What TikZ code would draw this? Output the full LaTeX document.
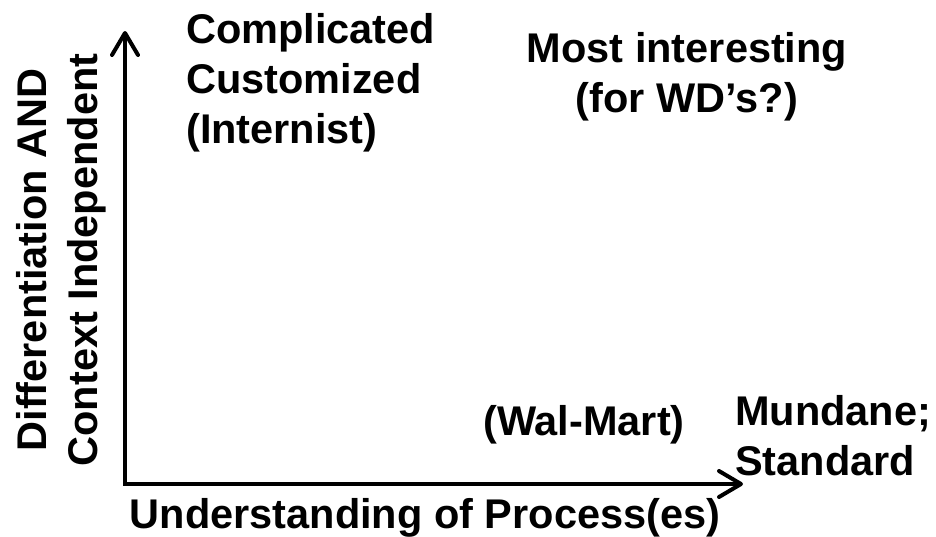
\documentclass[tikz,border=0pt]{standalone}
\usepackage{fontspec}
\setmainfont{Liberation Sans}
\usetikzlibrary{arrows.meta}
\begin{document}
\begin{tikzpicture}[x=1pt,y=1pt,
  lbl/.style={inner sep=0pt,font=\fontsize{41.5}{50}\selectfont\bfseries},
  axis/.style={line width=4pt,line join=miter,line cap=round,
    arrows={Straight Barb[length=22pt,width=26pt,line cap=round,line join=round]-Straight Barb[length=22pt,width=26pt,line cap=round,line join=round]}}]
\useasboundingbox (0,0) rectangle (936,-536);
\coordinate (ytip) at (125,-31);
\coordinate (origin) at (125,-484);
\coordinate (xtip) at (743,-484);
\draw[axis] (ytip) -- (origin) -- (xtip);
% top-left quadrant
\node[lbl,anchor=base west] (c1) at (186,-43) {Complicated};
\node[lbl,anchor=base west] (c2) at (186,-93) {Customized};
\node[lbl,anchor=base west] (c3) at (186,-143) {(Internist)};
% top-right
\node[lbl,anchor=base] (m1) at (687,-62) {Most interesting};
\node[lbl,anchor=base] (m2) at (687,-112) {(for WD’s?)};
% bottom
\node[lbl,anchor=base] (w) at (584,-435) {(Wal-Mart)};
\node[lbl,anchor=base west] (s1) at (735,-425) {Mundane;};
\node[lbl,anchor=base west] (s2) at (735,-475) {Standard};
% axis labels
\node[lbl,anchor=base] (xl) at (425,-528) {Understanding of Process(es)};
\node[lbl,anchor=base,rotate=90] (yl1) at (46,-260) {Differentiation AND};
\node[lbl,anchor=base,rotate=90] (yl2) at (97,-260) {Context Independent};
\end{tikzpicture}
\end{document}
